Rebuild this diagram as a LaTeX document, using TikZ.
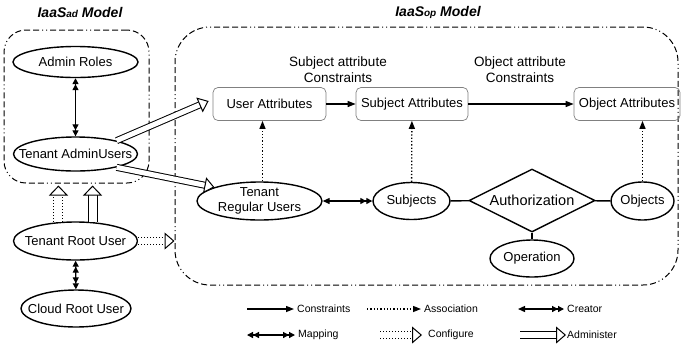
\documentclass[tikz,border=0pt]{standalone}
\usepackage{fontspec}
\setmainfont{Liberation Sans}
\usetikzlibrary{arrows.meta,shapes.geometric,calc}
\newcommand{\zw}[1]{\makebox[0pt]{#1}}
\begin{document}
\begin{tikzpicture}[x=1pt,y=-1pt,
  txt/.style={font=\fontsize{13}{15}\selectfont},
  ell/.style={ellipse, draw, line width=1.4pt, inner sep=0pt, txt},
  attr/.style={rectangle, rounded corners=5pt, draw=black!50, line width=0.7pt, minimum height=33pt, inner sep=0pt, txt},
  grp/.style={rectangle, draw, line width=1pt, inner sep=0pt,
    dash pattern=on 6pt off 3pt on 6pt off 3pt on 6pt off 3pt on 6pt off 3pt on 1pt off 3pt on 1pt off 3pt},
  ttl/.style={font=\fontsize{14}{16}\selectfont\bfseries\itshape, inner sep=0pt},
  lgd/.style={font=\fontsize{10.5}{12}\selectfont, anchor=west, inner sep=0pt},
  cons/.style={line width=1.3pt, -{Triangle[length=8pt,width=6pt]}},
  assoc/.style={line width=1.3pt, dotted, -{Triangle[length=8pt,width=6pt]}},
  mapping/.style={line width=1.3pt, {Triangle[length=6pt,width=6pt]Triangle[length=6pt,width=6pt]}-{Triangle[length=6pt,width=6pt]Triangle[length=6pt,width=6pt]}},
  creator/.style={line width=1.3pt, {Triangle[length=7pt,width=6pt]}-{Triangle[length=6pt,width=6pt]Triangle[length=6pt,width=6pt]}},
  admin/.style={line width=1pt, double=white, double distance=#1, -{Triangle[length=10pt,width=#1+11pt,open,fill=white]}},
  admin/.default=5pt,
  config/.style={line width=1pt, dotted, double=white, double distance=#1, -{Triangle[length=10pt,width=#1+11pt,open,fill=white]}},
  config/.default=6pt,
  plain/.style={line width=1.4pt}
]
\useasboundingbox (0,0) rectangle (682,349);

% group boxes
\node[grp, rounded corners=22pt, minimum width=145pt, minimum height=153pt] (adbox) at (76.5,106.5) {};
\node[grp, rounded corners=35pt, minimum width=503pt, minimum height=258pt] (opbox) at (426.5,156) {};

% titles
\node[ttl] (tad) at (80,12) {IaaS{\fontsize{10}{10}\selectfont ad} Model};
\node[ttl] (top) at (438,12) {IaaS{\fontsize{10}{10}\selectfont op} Model};

% left nodes
\node[ell, minimum width=125pt, minimum height=31pt] (ar) at (75.5,62) {\zw{Admin Roles}};
\node[ell, minimum width=124pt, minimum height=34pt] (tau) at (75.5,154) {\zw{Tenant AdminUsers}};
\node[ell, minimum width=124pt, minimum height=38pt] (trt) at (75.5,241) {\zw{Tenant Root User}};
\node[ell, minimum width=110pt, minimum height=37pt] (crt) at (76,308.5) {\zw{Cloud Root User}};

% attribute boxes
\node[attr, minimum width=113pt] (ua) at (269.5,104) {User Attributes};
\node[attr, minimum width=112pt] (sa) at (412,104) {Subject Attributes};
\node[attr, minimum width=106pt] (oa) at (627,104) {Object Attributes};

\node[font=\fontsize{13.5}{16}\selectfont, align=center, inner sep=0pt] (sac) at (338,70) {Subject attribute\\Constraints};
\node[font=\fontsize{13.5}{16}\selectfont, align=center, inner sep=0pt] (oac) at (520,70) {Object attribute\\Constraints};

% lower nodes
\node[ell, minimum width=125pt, minimum height=38pt] (tru) at (259.5,201) {\zw{\smash{\raisebox{-3pt}{\begin{tabular}{@{}c@{}}Tenant\\Regular Users\end{tabular}}}}};
\node[ell, minimum width=77pt, minimum height=37pt] (subj) at (411.5,201) {\zw{Subjects}};
\node[diamond, draw, line width=1.4pt, minimum width=126pt, minimum height=63pt, inner sep=0pt, font=\fontsize{14.5}{16}\selectfont] (auth) at (532,200.5) {\zw{Authorization}};
\node[ell, minimum width=63pt, minimum height=38pt] (obj) at (642.5,201) {\zw{Objects}};
\node[ell, minimum width=84pt, minimum height=37pt] (op) at (532,258.5) {\zw{Operation}};

% connectors
\draw[mapping] (ar) -- (tau);
\draw[mapping] (trt) -- (crt);
\draw[admin] (tau.18) -- ($(ua.west)+(-4,-3)$);
\draw[admin] (tau.-18) -- (tru.163);
\draw[config=8pt] (trt.132) -- ($(trt.132 |- adbox.south)+(0,2)$);
\draw[admin=8pt] (trt.48) -- ($(trt.48 |- adbox.south)+(0,2)$);
\draw[config=6pt] (trt.east) -- (trt.east -| opbox.west);
\draw[cons] (ua) -- (sa);
\draw[cons] (sa) -- (oa);
\draw[assoc] ($(tru.north)+(3,0)$) -- ($(tru.north |- ua.south)+(3,0)$);
\draw[assoc] (subj) -- (sa);
\draw[assoc] (obj.north) -- (obj.north |- oa.south);
\draw[creator] (tru) -- (subj);
\draw[plain] (subj) -- (auth);
\draw[plain] (auth) -- (obj);
\draw[plain] (auth) -- (op);

% legend
\coordinate (l1a) at (247,309); \coordinate (l1b) at (294,309);
\coordinate (l2a) at (367,309); \coordinate (l2b) at (421,309);
\coordinate (l3a) at (518,309); \coordinate (l3b) at (564,309);
\coordinate (l4a) at (247,335); \coordinate (l4b) at (295,335);
\coordinate (l5a) at (380,335); \coordinate (l5b) at (422,335);
\coordinate (l6a) at (520,335); \coordinate (l6b) at (566,335);
\draw[cons] (l1a) -- (l1b);
\draw[assoc] (l2a) -- (l2b);
\draw[creator] (l3a) -- (l3b);
\draw[mapping] (l4a) -- (l4b);
\draw[config=6pt] (l5a) -- (l5b);
\draw[admin=6pt] (l6a) -- (l6b);
\node[lgd] (t1) at (297,309) {Constraints};
\node[lgd] (t2) at (424,309) {Association};
\node[lgd] (t3) at (567,309) {Creator};
\node[lgd] (t4) at (298,335) {Mapping};
\node[lgd] (t5) at (428,335) {Configure};
\node[lgd] (t6) at (567,335) {Administer};
\end{tikzpicture}
\end{document}
